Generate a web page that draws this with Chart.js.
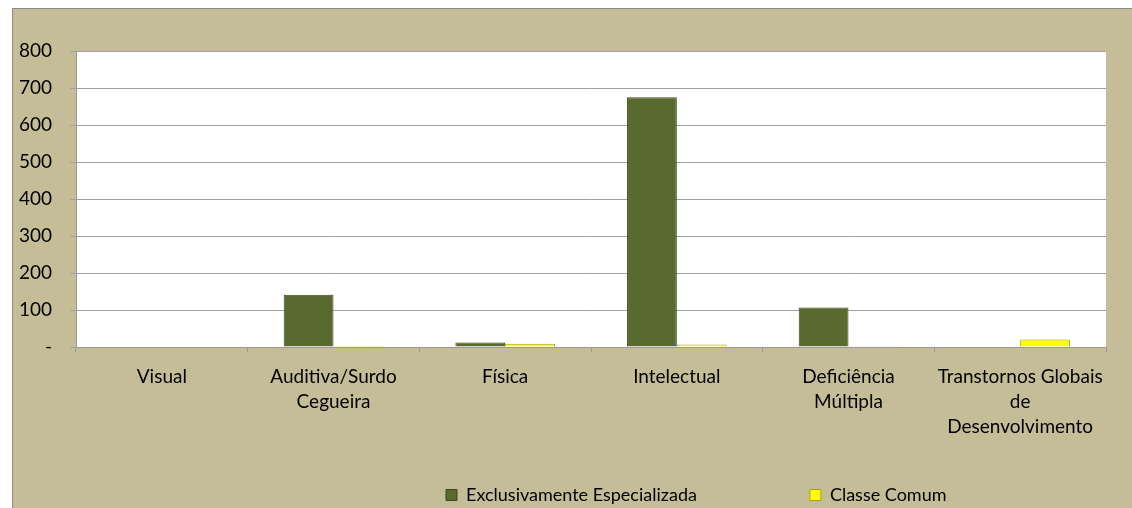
<!DOCTYPE html>
<html>
<head>
<meta charset="utf-8">
<script src="https://cdn.jsdelivr.net/npm/chart.js@4.4.1/dist/chart.umd.min.js"></script>
<style>
  html, body { margin: 0; padding: 0; background: #ffffff; width: 1132px; height: 508px; overflow: hidden; }
  #frame { position: absolute; left: 12px; top: 8px; width: 1200px; height: 600px; background: #C4BD97; border-left: 1px solid #8C8C8C; border-top: 1px solid #8C8C8C; }
  #c { position: absolute; left: 0; top: 0; }
</style>
</head>
<body>
<div id="frame"></div>
<canvas id="c" width="1132" height="508"></canvas>
<script>
const categories = [
  'Visual',
  ['Auditiva/Surdo', 'Cegueira'],
  'Física',
  'Intelectual',
  ['Deficiência', 'Múltipla'],
  ['Transtornos Globais', 'de', 'Desenvolvimento']
];
const seriesNames = ['Exclusivamente Especializada', 'Classe Comum'];
const exclusivamenteEspecializada = [0, 141, 12, 675, 107, 0];
const classeComum = [0, 3, 9, 7, 2, 20];
const yTickMin = 0;
const yTickMax = 800;
const yTickStep = 100;

const FONT = { family: 'Lato, "Open Sans", sans-serif', size: 19, lineHeight: 1.32 };
const LEGEND_FONT = { family: 'Lato, "Open Sans", sans-serif', size: 18 };

const plotBg = {
  id: 'plotBg',
  beforeDraw(chart) {
    const { ctx, chartArea: a } = chart;
    ctx.save();
    ctx.fillStyle = '#ffffff';
    ctx.fillRect(a.left, a.top, a.right - a.left, a.bottom - a.top);
    ctx.restore();
  }
};

const legendPlace = {
  id: 'legendPlace',
  afterLayout(chart) {
    const lg = chart.legend;
    if (!lg) return;
    const pad = lg.options.labels.padding;
    const h = lg.options.labels.font.size;
    lg.left = 446 - pad;
    lg.right = chart.width;
    lg.width = lg.right - lg.left;
    lg.top = 495 - pad - h / 2;
    lg.bottom = chart.height;
    lg.height = lg.bottom - lg.top;
  }
};

new Chart(document.getElementById('c'), {
  type: 'bar',
  data: {
    labels: categories,
    datasets: [
      {
        label: seriesNames[0],
        data: exclusivamenteEspecializada,
        backgroundColor: '#586A2E',
        borderColor: '#3B481C',
        borderWidth: 1
      },
      {
        label: seriesNames[1],
        data: classeComum,
        backgroundColor: '#FFFF00',
        borderColor: '#A6A600',
        borderWidth: 1
      }
    ]
  },
  options: {
    responsive: false,
    animation: false,
    devicePixelRatio: 1,
    layout: { padding: { top: 51, right: 26, left: 0, bottom: 0 } },
    datasets: { bar: { categoryPercentage: 0.58, barPercentage: 1.0 } },
    scales: {
      x: {
        offset: true,
        grid: { drawOnChartArea: false, drawTicks: true, tickLength: 5, color: '#9A9A9A', offset: true },
        border: { display: true, color: '#9A9A9A' },
        ticks: { color: '#000000', font: FONT, padding: 12, maxRotation: 0, minRotation: 0, autoSkip: false },
        afterFit(scale) { scale.height = 131; }
      },
      y: {
        min: yTickMin,
        max: yTickMax,
        grid: { color: '#A0A0A0', tickLength: 6, drawTicks: true },
        border: { display: true, color: '#9A9A9A' },
        ticks: {
          stepSize: yTickStep,
          color: '#000000',
          font: FONT,
          padding: 18,
          callback: (v) => (v === 0 ? '-' : String(v))
        },
        afterFit(scale) { scale.width = 76; }
      }
    },
    plugins: {
      title: { display: false },
      tooltip: { enabled: false },
      legend: {
        display: true,
        position: 'bottom',
        align: 'start',
        maxHeight: 30,
        labels: {
          color: '#000000',
          font: LEGEND_FONT,
          boxWidth: 11,
          boxHeight: 11,
          padding: 113
        }
      }
    }
  },
  plugins: [plotBg, legendPlace]
});
</script>
</body>
</html>
